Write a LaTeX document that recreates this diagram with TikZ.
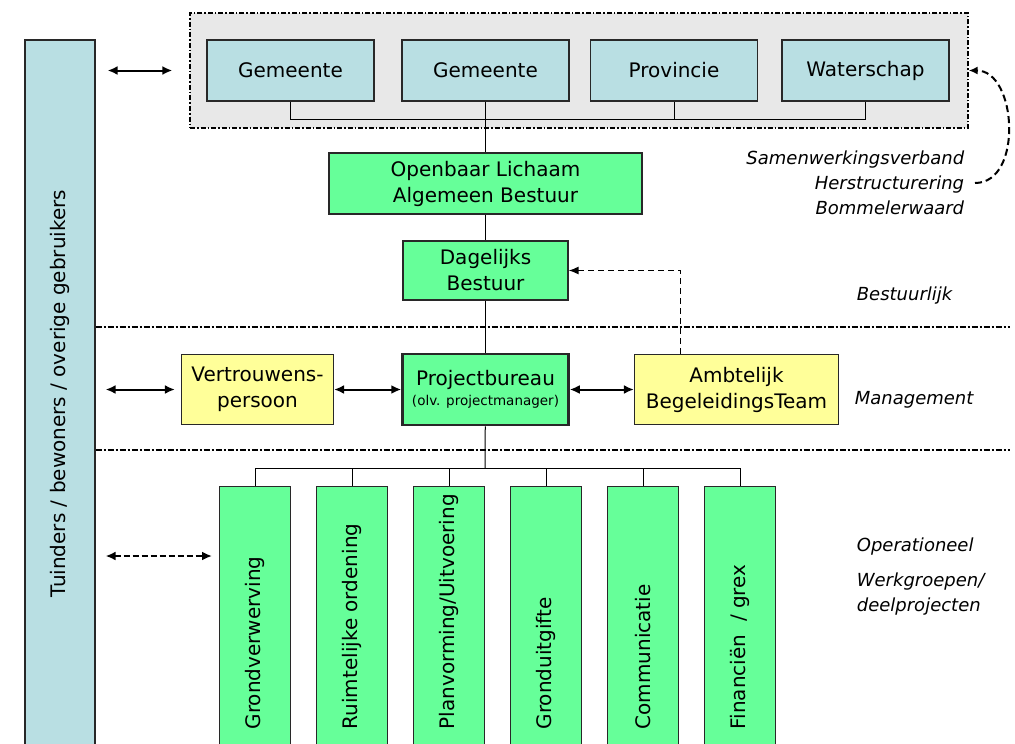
\documentclass[tikz,border=0pt]{standalone}
\usepackage{fontspec}
\setmainfont{DejaVu Sans}
\usetikzlibrary{positioning,arrows.meta}

\definecolor{govblue}{RGB}{185,223,227}
\definecolor{boardgreen}{RGB}{102,255,153}
\definecolor{mgmtyellow}{RGB}{255,255,153}
\definecolor{framegrey}{RGB}{232,232,232}
\definecolor{edgegrey}{RGB}{40,40,40}

\begin{document}
\begin{tikzpicture}[x=1pt, y=-1pt, node distance=192pt, on grid, line width=1pt,
orgbox/.style={draw=edgegrey, line width=1.2pt, font=\fontsize{20}{26}\selectfont, align=center, inner sep=2pt},
gov/.style={orgbox, fill=govblue, minimum width=167pt, minimum height=61pt},
board/.style={orgbox, fill=boardgreen},
mgmt/.style={orgbox, fill=mgmtyellow, minimum height=70pt},
work/.style={orgbox, fill=boardgreen, anchor=north, minimum width=71pt, minimum height=290pt},
worktext/.style={rotate=90, anchor=west, font=\fontsize{20}{24}\selectfont},
lvltext/.style={font=\itshape\fontsize{18}{25}\selectfont},
biarrow/.style={{Latex[length=10pt,width=9pt]}-{Latex[length=10pt,width=9pt]}, line width=2pt},
fb/.style={-{Latex[length=10pt,width=8pt]}, dash pattern=on 6pt off 4pt, line width=1.3pt},
curvearr/.style={-{Latex[length=9pt,width=8pt]}, dash pattern=on 7pt off 4pt, line width=2pt},
levelline/.style={line width=1.5pt, dash pattern=on 6pt off 2pt on 2pt off 2pt}]
\useasboundingbox (0,0) rectangle (1015,744);

% gebruikers
\node[orgbox, fill=govblue, rotate=90, minimum width=707pt, minimum height=70pt] (users) at (60,393.5) {Tuinders / bewoners / overige gebruikers};

% samenwerkingsverband
\node[draw=black, fill=framegrey, line width=1.3pt, dash pattern=on 5pt off 2pt on 1.5pt off 2pt, minimum width=778pt, minimum height=115pt] (gov) at (579,70.5) {};
\node[gov] (g1) at (290.5,70.5) {Gemeente};
\node[gov, right=195pt of g1] (g2) {Gemeente};
\node[gov, right=188.5pt of g2] (g3) {Provincie};
\node[gov, right=191.5pt of g3] (g4) {Waterschap};

% bestuur
\node[board, minimum width=313pt, minimum height=61pt, below=113pt of g2] (ol) {Openbaar Lichaam\\Algemeen Bestuur};
\node[board, minimum width=165pt, minimum height=59pt, below=87pt of ol] (db) {Dagelijks\\Bestuur};

% management
\node[board, line width=2.5pt, minimum width=166pt, minimum height=71pt, below=119pt of db] (pb) {Projectbureau\\[-6pt]{\fontsize{13.5}{15}\selectfont (olv. projectmanager)}};
\node[mgmt, minimum width=152pt, left=228pt of pb] (vp) {Vertrouwens-\\persoon};
\node[mgmt, minimum width=204pt, right=251pt of pb] (abt) {Ambtelijk\\BegeleidingsTeam};

% werkgroepen
\foreach \txt [count=\i] in {Grondverwerving, Ruimtelijke ordening, Planvorming/Uitvoering, Gronduitgifte, Communicatie, Financiën\ \ /\ grex}{
  \node[work] (w\i) at ({255+97*(\i-1)},486) {};
  \node[worktext] (w\i t) at ([yshift=44pt]w\i.south) {\txt};
}

% niveaus
\draw[levelline] (users.south |- 0,327) -- (1010,327);
\draw[levelline] (users.south |- 0,450) -- (1010,450);
\node[lvltext, align=right, anchor=east] (sw) at (968,183) {Samenwerkingsverband\\Herstructurering\\Bommelerwaard};
\node[lvltext, anchor=west] (bl) at (853,296) {Bestuurlijk};
\node[lvltext, anchor=west] (mg) at (851,400) {Management};
\node[lvltext, anchor=west] (op) at (853,547) {Operationeel};
\node[lvltext, anchor=west, align=left] (wgp) at (853,594) {Werkgroepen/\\deelprojecten};

% lijnen
\coordinate (gbus) at (485,119);
\draw (g1.south) |- (gbus -| g4.south) -- (g4.south);
\draw (g3.south) -- (g3.south |- gbus);
\draw (g2) -- (ol);
\draw (ol) -- (db);
\draw (db) -- (pb);
\coordinate (wbus) at (485,468);
\draw (pb) -- (wbus);
\draw (w1.north |- wbus) -- (w6.north |- wbus);
\foreach \i in {1,...,6} \draw (w\i.north |- wbus) -- (w\i.north);

% pijlen
\draw[biarrow, shorten <=12pt, shorten >=17pt] (users.south |- gov.west) -- (gov.west);
\draw[biarrow, shorten <=10pt, shorten >=6pt] (users.south |- vp.west) -- (vp.west);
\draw[biarrow] (vp) -- (pb);
\draw[biarrow] (pb) -- (abt);
\coordinate (wgarrow) at (212,556);
\draw[biarrow, dash pattern=on 6pt off 3pt, shorten <=10pt] (users.south |- wgarrow) -- (wgarrow);
\draw[fb] ([xshift=-56pt]abt.north) |- (db.east);
\draw[curvearr] ([xshift=7pt]sw.east) to[out=0, in=0, looseness=1.1] (gov.east);
\end{tikzpicture}
\end{document}
